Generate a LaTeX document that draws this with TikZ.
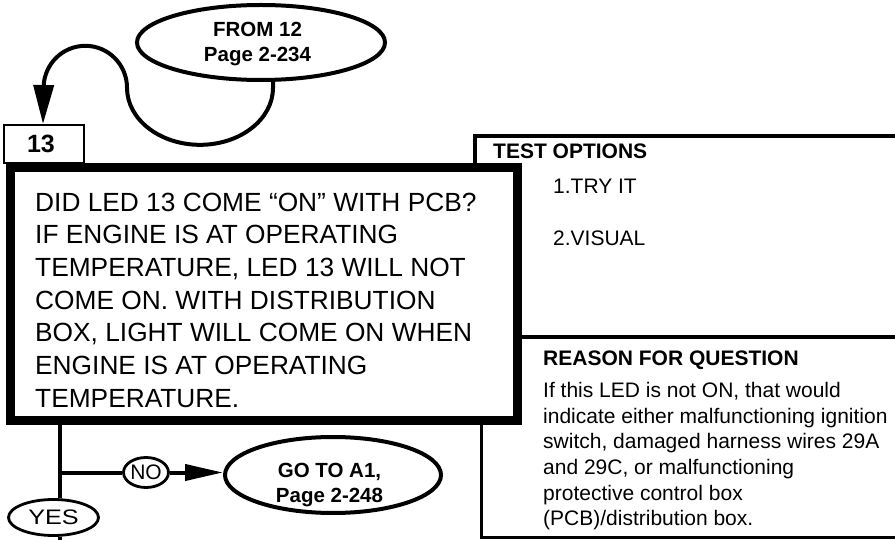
\documentclass[tikz,border=0pt]{standalone}
\usepackage{fontspec}
\setmainfont{Liberation Sans}
\usetikzlibrary{shapes.geometric,arrows.meta}
\begin{document}
\begin{tikzpicture}[x=1pt,y=-1pt,
  conn/.style={line width=4pt},
  oval/.style={ellipse,draw,line width=4pt,inner sep=0pt},
  smalloval/.style={ellipse,draw,line width=2.8pt,inner sep=0pt,font=\fontsize{21}{24}\selectfont},
  ovaltext/.style={align=center,inner sep=0pt,font=\fontsize{20.5}{25}\selectfont\bfseries},
  head/.style={anchor=base west,inner sep=0pt,font=\fontsize{21}{25}\selectfont\bfseries},
  plain/.style={anchor=base west,inner sep=0pt,font=\fontsize{21}{25}\selectfont},
  bigtri/.style={-{Triangle[length=39pt,width=20pt]}},
  smalltri/.style={-{Triangle[length=38pt,width=16pt]}}
]
\useasboundingbox (0,0) rectangle (895,540);
\clip (0,0) rectangle (895,540);

% test options / reason frame
\draw[line width=4pt,line join=miter] (900,136.5) -- (475,136.5) -- (475,300);
\draw[line width=4pt] (510,337.5) -- (900,337.5);
\draw[line width=3pt,line join=miter] (481,400) -- (481,537.5) -- (900,537.5);

% connectors from main box
\coordinate (j) at (59.5,472.5);
\coordinate (bot) at (59.5,545);

\node[smalloval,minimum width=45pt,minimum height=30pt] (no) at (146,472.5) {NO};
\node[smalloval,minimum width=90pt,minimum height=36pt] (yes) at (53.5,517.5) {\scalebox{1.2}[1]{YES}};
\node[oval,minimum width=216pt,minimum height=76pt] (goto) at (333,475) {};
\node[ovaltext] (gototxt) at (329.5,485.3) {GO TO A1,\\Page 2-248};

\node[draw,line width=2pt,minimum width=80pt,minimum height=38pt,inner sep=0pt,
      font=\fontsize{25}{25}\selectfont\bfseries] (s13) at (44,144) {13\kern6pt};

\node[draw,line width=9pt,fill=white,minimum width=507pt,minimum height=253pt,inner sep=0pt] (q) at (264,294) {};
\node[anchor=north west,align=left,inner sep=0pt,font=\fontsize{26.3}{32.7}\selectfont] (qtxt) at (35,192.6)
{DID LED 13 COME “ON” WITH PCB?\\IF ENGINE IS AT OPERATING\\TEMPERATURE, LED 13 WILL NOT\\COME ON. WITH DISTRIBUTION\\BOX, LIGHT WILL COME ON WHEN\\ENGINE IS AT OPERATING\\TEMPERATURE.};

\draw[conn] (j |- q.south) -- (j |- yes.north);
\draw[conn] (j |- yes.south) -- (bot);
\draw[conn] (j) -- (no.west);
\draw[conn,smalltri] (no.east) -- (no.east -| goto.west);

% from ellipse
\node[oval,minimum width=248pt,minimum height=75pt] (from) at (261,42.5) {};
\node[ovaltext] (fromtxt) at (257.5,44.3) {FROM 12\\Page 2-234};
\draw[conn,bigtri] (from.-73) -- ++(0,6)
  arc[start angle=0,end angle=-180,x radius=73pt,y radius=57pt]
  arc[start angle=0,end angle=180,x radius=41.7pt,y radius=42pt]
  -- ([xshift=-1pt]s13.north);

% right texts
\node[head] (topt) at (493,159) {TEST OPTIONS};
\node[plain] (o1) at (553,194) {1.TRY IT};
\node[plain] (o2) at (553,246) {2.VISUAL};
\node[head] (rq) at (543,365) {REASON FOR QUESTION};
\node[anchor=north west,align=left,inner sep=0pt,font=\fontsize{21}{25.6}\selectfont] (rtxt) at (543,382.3)
{If this LED is not ON, that would\\indicate either malfunctioning ignition\\switch, damaged harness wires 29A\\and 29C, or malfunctioning\\protective control box\\(PCB)/distribution box.};
\end{tikzpicture}
\end{document}
